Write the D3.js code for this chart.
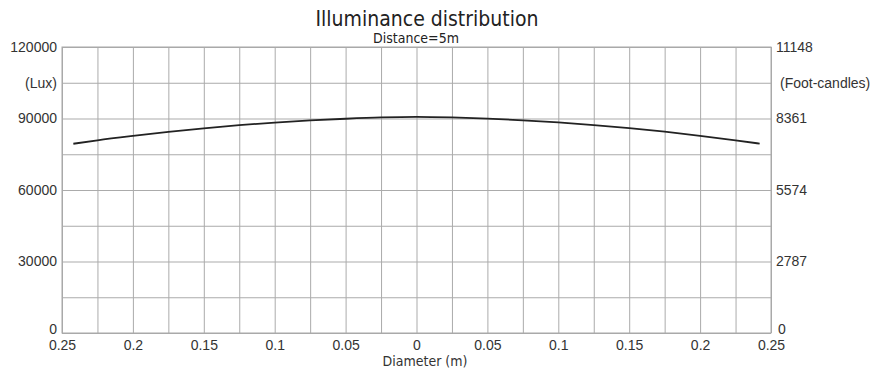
<!DOCTYPE html>
<html>
<head>
<meta charset="utf-8">
<script src="https://cdn.jsdelivr.net/npm/d3@7"></script>
<style>
  body { margin: 0; background: #fff; }
  svg { display: block; font-family: "DejaVu Sans Condensed", "DejaVu Sans", sans-serif; }
  .grid line { stroke: #ababab; stroke-width: 1; }
  .grid .domain { display: none; }
  .labels .domain, .labels line { display: none; }
  .labels text { fill: #333; font-size: 14px; }
</style>
</head>
<body>
<svg id="chart" width="874" height="376"></svg>
<script>
// diameter position (m), measured on the chart
var diameter = [-0.242, -0.225, -0.2, -0.175, -0.15, -0.125, -0.1, -0.075, -0.05, -0.025,
  0, 0.025, 0.05, 0.075, 0.1, 0.125, 0.15, 0.175, 0.2, 0.225, 0.242];
// illuminance (lux)
var lux = [79400, 80850, 82700, 84400, 85900, 87200, 88300, 89200, 89900, 90450,
  90700, 90450, 89950, 89250, 88350, 87250, 85950, 84450, 82750, 80850, 79450];

var xTicks = [-0.25, -0.2, -0.15, -0.1, -0.05, 0, 0.05, 0.1, 0.15, 0.2, 0.25];
var xGrid = d3.range(-0.25, 0.2501, 0.025);
var yGrid = [0, 15000, 30000, 45000, 60000, 75000, 90000, 105000, 120000];
var yTicks = [0, 30000, 60000, 90000, 105000, 120000];
var unitPos = 105000;
var luxToFc = 10.764;

var svg = d3.select("#chart"),
  width = +svg.attr("width"),
  height = +svg.attr("height");

var margin = { top: 47, right: 103, bottom: 43, left: 62 };
var w = width - margin.left - margin.right,
  h = height - margin.top - margin.bottom;

var x = d3.scaleLinear().domain([-0.25, 0.25]).range([0, w]);
var y = d3.scaleLinear().domain([0, 120000]).range([h, 0]);

var g = svg.append("g").attr("transform", "translate(" + margin.left + "," + margin.top + ")");

// grid
g.append("g")
  .attr("class", "grid")
  .attr("transform", "translate(0," + h + ")")
  .call(d3.axisBottom(x).tickValues(xGrid).tickSize(-h).tickFormat(""));
g.append("g")
  .attr("class", "grid")
  .call(d3.axisLeft(y).tickValues(yGrid).tickSize(-w).tickFormat(""));

// frame
g.append("rect")
  .attr("width", w).attr("height", h)
  .attr("fill", "none").attr("stroke", "#a8a8a8");

// curve
var line = d3.line()
  .x((d, i) => x(diameter[i]))
  .y((d) => y(d))
  .curve(d3.curveMonotoneX);

g.append("path")
  .datum(lux)
  .attr("fill", "none")
  .attr("stroke", "#222")
  .attr("stroke-width", 1.8)
  .attr("d", line);

// x labels
g.append("g")
  .attr("class", "labels")
  .attr("transform", "translate(0," + h + ")")
  .call(d3.axisBottom(x).tickValues(xTicks).tickSize(0).tickPadding(7)
    .tickFormat((d) => String(+Math.abs(d).toFixed(2))));

// left labels
var la = g.append("g")
  .attr("class", "labels")
  .call(d3.axisLeft(y).tickValues(yTicks).tickSize(0).tickPadding(5)
    .tickFormat((d) => (d === unitPos ? "(Lux)" : String(d))));
la.selectAll("text").filter((d) => d === 0).attr("dy", "0.05em");

// right labels
var ra = g.append("g")
  .attr("class", "labels")
  .attr("transform", "translate(" + w + ",0)")
  .call(d3.axisRight(y).tickValues(yTicks).tickSize(0).tickPadding(5)
    .tickFormat((d) => (d === unitPos ? "(Foot-candles)" : String(Math.round(d / luxToFc)))));
ra.selectAll("text").filter((d) => d === unitPos).attr("dx", 4);
ra.selectAll("text").filter((d) => d === 0).attr("dy", "0.05em").attr("dx", 2);

// titles
svg.append("text")
  .attr("x", 427).attr("y", 26)
  .attr("text-anchor", "middle")
  .style("font-size", "21px").style("fill", "#222")
  .text("Illuminance distribution");
svg.append("text")
  .attr("x", 416).attr("y", 43)
  .attr("text-anchor", "middle")
  .style("font-size", "14px").style("fill", "#222")
  .text("Distance=5m");
svg.append("text")
  .attr("x", 425).attr("y", 366)
  .attr("text-anchor", "middle")
  .style("font-size", "14px").style("fill", "#333")
  .text("Diameter (m)");
</script>
</body>
</html>
